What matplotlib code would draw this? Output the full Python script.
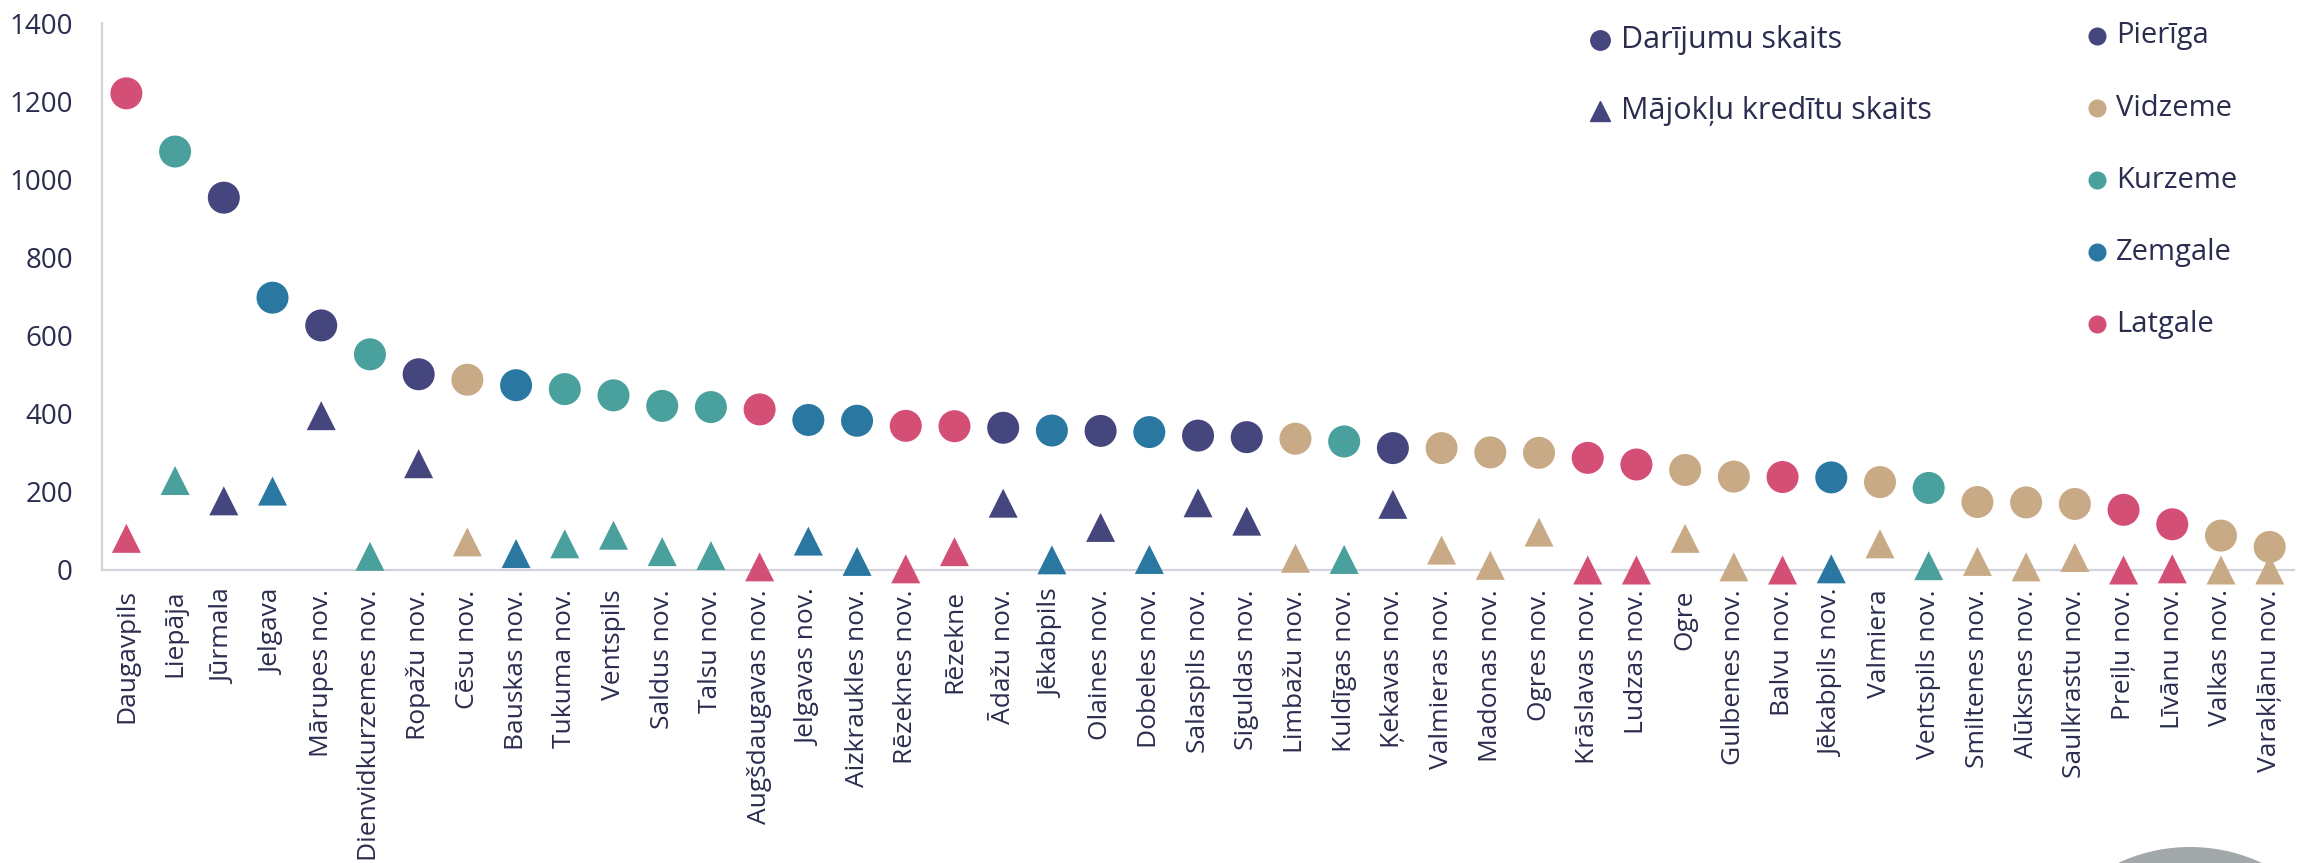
import matplotlib
matplotlib.use("Agg")
import matplotlib.pyplot as plt
from matplotlib.patches import Circle

plt.rcParams["font.family"] = ["Open Sans", "DejaVu Sans"]

names = [
    "Daugavpils", "Liepāja", "Jūrmala", "Jelgava", "Mārupes nov.",
    "Dienvidkurzemes nov.", "Ropažu nov.", "Cēsu nov.", "Bauskas nov.", "Tukuma nov.",
    "Ventspils", "Saldus nov.", "Talsu nov.", "Augšdaugavas nov.", "Jelgavas nov.",
    "Aizkraukles nov.", "Rēzeknes nov.", "Rēzekne", "Ādažu nov.", "Jēkabpils",
    "Olaines nov.", "Dobeles nov.", "Salaspils nov.", "Siguldas nov.", "Limbažu nov.",
    "Kuldīgas nov.", "Ķekavas nov.", "Valmieras nov.", "Madonas nov.", "Ogres nov.",
    "Krāslavas nov.", "Ludzas nov.", "Ogre", "Gulbenes nov.", "Balvu nov.",
    "Jēkabpils nov.", "Valmiera", "Ventspils nov.", "Smiltenes nov.", "Alūksnes nov.",
    "Saulkrastu nov.", "Preiļu nov.", "Līvānu nov.", "Valkas nov.", "Varakļānu nov.",
]
regions = [
    "Latgale", "Kurzeme", "Pierīga", "Zemgale", "Pierīga",
    "Kurzeme", "Pierīga", "Vidzeme", "Zemgale", "Kurzeme",
    "Kurzeme", "Kurzeme", "Kurzeme", "Latgale", "Zemgale",
    "Zemgale", "Latgale", "Latgale", "Pierīga", "Zemgale",
    "Pierīga", "Zemgale", "Pierīga", "Pierīga", "Vidzeme",
    "Kurzeme", "Pierīga", "Vidzeme", "Vidzeme", "Vidzeme",
    "Latgale", "Latgale", "Vidzeme", "Vidzeme", "Latgale",
    "Zemgale", "Vidzeme", "Kurzeme", "Vidzeme", "Vidzeme",
    "Vidzeme", "Latgale", "Latgale", "Vidzeme", "Vidzeme",
]
deals = [
    1220, 1071, 953, 697, 626, 552, 501, 487, 473, 463,
    447, 420, 417, 411, 384, 382, 369, 368, 364, 357,
    356, 353, 344, 340, 336, 329, 312, 312, 301, 300,
    287, 270, 256, 239, 238, 237, 225, 210, 174, 173,
    169, 154, 117, 88, 59,
]
loans = [
    81, 229, 177, 202, 395, 35, 272, 72, 42, 67,
    89, 47, 37, 8, 74, 22, 3, 47, 171, 26,
    109, 27, 172, 125, 30, 27, 168, 51, 12, 97,
    0, 0, 81, 8, 0, 3, 67, 11, 22, 8,
    32, 0, 3, 0, 0,
]
region_order = ["Pierīga", "Vidzeme", "Kurzeme", "Zemgale", "Latgale"]
region_colors = {
    "Pierīga": "#45467e",
    "Vidzeme": "#c9aa86",
    "Kurzeme": "#49a09d",
    "Zemgale": "#2a78a2",
    "Latgale": "#d44f75",
}
series_labels = ["Darījumu skaits", "Mājokļu kredītu skaits"]

text_color = "#2b2d4f"
spine_color = "#d3d3de"

fig = plt.figure(figsize=(22.98, 8.63), dpi=100)
ax = fig.add_axes([0.0444, 1 - 570 / 863, 2192 / 2298, (570 - 23) / 863])

xs = list(range(len(names)))
colors = [region_colors[r] for r in regions]

ax.scatter(xs, deals, s=531, marker="o", c=colors, linewidths=0, clip_on=False, zorder=3)
ax.scatter(xs, loans, s=436, marker="^", c=colors, linewidths=0, clip_on=False, zorder=4)

ax.set_xlim(-0.5, len(names) - 0.5)
ax.set_ylim(0, 1400)
ax.set_yticks(range(0, 1401, 200))
ax.set_xticks(xs)
ax.set_xticklabels(names, rotation=90, fontsize=19, color=text_color)
ax.tick_params(axis="x", length=0, pad=14)
ax.tick_params(axis="y", length=0, pad=21, labelsize=20, labelcolor=text_color)

for side in ["top", "right"]:
    ax.spines[side].set_visible(False)
for side in ["left", "bottom"]:
    ax.spines[side].set_color(spine_color)
    ax.spines[side].set_linewidth(1.6)

# overlay in pixel units for legends and the decorative circle
over = fig.add_axes([0, 0, 1, 1], zorder=5)
over.set_xlim(0, 2298)
over.set_ylim(863, 0)
over.axis("off")
over.patch.set_alpha(0)

over.plot([1600], [40], marker="o", markersize=14, color="#45467e", linestyle="none")
over.text(1621, 40, series_labels[0], fontsize=22, color=text_color, va="center")
over.plot([1600], [111], marker="^", markersize=14, color="#45467e", linestyle="none")
over.text(1621, 111, series_labels[1], fontsize=22, color=text_color, va="center")

for i, reg in enumerate(region_order):
    y = 36 + i * 72
    over.plot([2097], [y], marker="o", markersize=12, color=region_colors[reg], linestyle="none")
    over.text(2116, y, reg, fontsize=21, color=text_color, va="center")

over.add_patch(Circle((2190, 1017), 170, color="#a2a7a9", linewidth=0))

fig.savefig("out.png", dpi=100)
